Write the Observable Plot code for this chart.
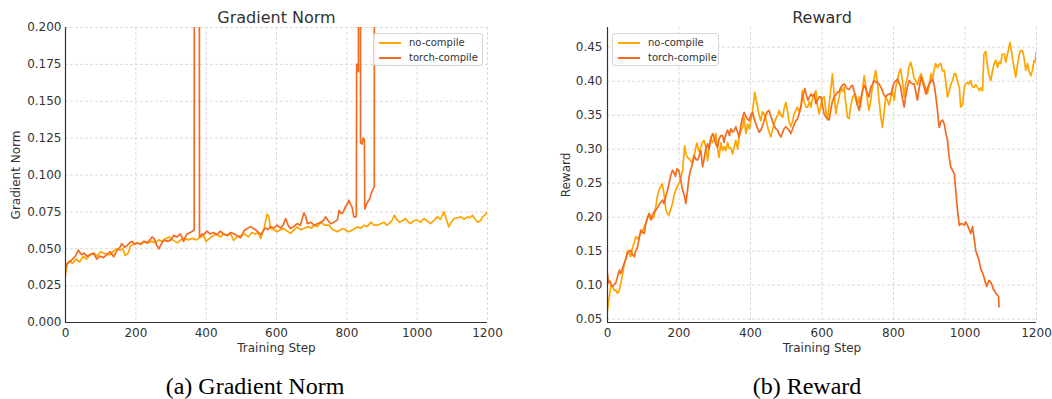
<!DOCTYPE html>
<html>
<head>
<meta charset="utf-8">
<script src="https://cdn.jsdelivr.net/npm/d3@7"></script>
<script src="https://cdn.jsdelivr.net/npm/@observablehq/plot@0.6"></script>
<style>
  html, body { margin: 0; padding: 0; background: #fff; }
  #root { position: relative; width: 1052px; height: 399px; overflow: hidden; font-family: "DejaVu Sans", sans-serif; }
  .chart { position: absolute; top: 0; }
  .legend { position: absolute; box-sizing: border-box; height: 33px; border: 1px solid #d6d6d6; border-radius: 3px;
            background: rgba(255,255,255,0.85); font: 10px "DejaVu Sans", sans-serif; color: #333; padding: 1px 0 0 5px; }
  .legend .row { display: flex; align-items: center; height: 15px; }
  .legend .sw { width: 22px; height: 2px; margin-right: 8px; }
  .caption { position: absolute; top: 374px; font: 24px "Liberation Serif", "Times New Roman", serif; color: #000; white-space: nowrap; transform: translateX(-50%); line-height: 1; }
</style>
</head>
<body>
<div id="root"></div>
<script>
// ---------- data ----------
const seriesNames = ["no-compile", "torch-compile"];
const seriesColors = ["#FFA500", "#F36B21"];
const xTicks = [0, 200, 400, 600, 800, 1000, 1200];
const gradTicks = [0, 0.025, 0.05, 0.075, 0.1, 0.125, 0.15, 0.175, 0.2];
const rewardTicks = [0.05, 0.1, 0.15, 0.2, 0.25, 0.3, 0.35, 0.4, 0.45];
const titles = ["Gradient Norm", "Reward"];
const captions = ["(a) Gradient Norm", "(b) Reward"];

// Gradient norm, no-compile: [step, value]
const gradNoCompile = [[0,0.032],[5,0.040],[12,0.042],[20,0.040],[30,0.043],[40,0.041],[50,0.045],[60,0.043],[70,0.046],[80,0.047],[90,0.045],[100,0.048],[110,0.047],[120,0.046],[127,0.046],[135,0.048],[145,0.050],[155,0.049],[163,0.050],[170,0.0455],[178,0.047],[185,0.052],[195,0.053],[205,0.054],[215,0.053],[225,0.055],[235,0.054],[245,0.055],[255,0.054],[265,0.056],[275,0.055],[285,0.057],[295,0.058],[305,0.056],[318,0.054],[328,0.056],[338,0.057],[350,0.056],[360,0.057],[372,0.056],[384,0.058],[392,0.059],[400,0.055],[410,0.057],[420,0.059],[430,0.060],[440,0.058],[450,0.060],[460,0.059],[470,0.060],[478,0.0557],[488,0.058],[500,0.059],[510,0.060],[520,0.058],[530,0.061],[540,0.060],[548,0.061],[555,0.057],[565,0.064],[573,0.0735],[578,0.072],[583,0.0637],[592,0.063],[602,0.0615],[612,0.063],[621,0.0637],[630,0.062],[640,0.0604],[650,0.063],[659,0.0648],[668,0.063],[678,0.0637],[690,0.065],[700,0.064],[707,0.066],[716,0.065],[726,0.068],[737,0.066],[749,0.066],[760,0.063],[773,0.0615],[782,0.063],[792,0.0637],[800,0.062],[806,0.0615],[818,0.063],[830,0.0648],[840,0.064],[849,0.066],[858,0.065],[868,0.068],[877,0.066],[887,0.066],[896,0.067],[906,0.068],[913,0.066],[920,0.067],[928,0.069],[935,0.0727],[942,0.070],[949,0.068],[958,0.069],[967,0.0705],[975,0.068],[981,0.067],[990,0.069],[1000,0.0694],[1010,0.068],[1019,0.0705],[1028,0.069],[1038,0.067],[1047,0.069],[1057,0.0716],[1066,0.070],[1076,0.075],[1083,0.070],[1090,0.0648],[1097,0.068],[1105,0.0705],[1114,0.071],[1124,0.0716],[1133,0.070],[1143,0.0716],[1150,0.071],[1157,0.0727],[1165,0.070],[1172,0.068],[1180,0.069],[1186,0.0716],[1193,0.073],[1200,0.075]];

// Gradient norm, torch-compile (spikes run far off the top of the axis)
const gradTorchCompile = [[0,0.038],[5,0.040],[12,0.041],[20,0.043],[28,0.045],[37,0.049],[45,0.046],[53,0.047],[61,0.045],[70,0.046],[80,0.047],[89,0.043],[98,0.045],[108,0.044],[117,0.046],[127,0.048],[137,0.0445],[147,0.049],[155,0.051],[160,0.0535],[168,0.051],[175,0.052],[182,0.054],[190,0.055],[197,0.053],[203,0.054],[212,0.053],[222,0.055],[232,0.054],[240,0.056],[246,0.058],[252,0.057],[260,0.052],[266,0.050],[272,0.053],[280,0.056],[290,0.055],[300,0.056],[308,0.059],[317,0.058],[327,0.060],[336,0.055],[345,0.060],[355,0.061],[362,0.062],[366,0.063],[367,0.6],[380,0.6],[381,0.058],[388,0.060],[393,0.0595],[402,0.062],[412,0.060],[421,0.061],[431,0.0595],[440,0.062],[450,0.060],[460,0.059],[470,0.061],[480,0.060],[488,0.059],[498,0.0575],[507,0.062],[517,0.0637],[526,0.065],[535,0.0637],[545,0.062],[555,0.0595],[562,0.062],[568,0.064],[575,0.063],[583,0.065],[592,0.064],[602,0.066],[612,0.064],[619,0.066],[626,0.0705],[633,0.066],[640,0.0637],[649,0.065],[659,0.067],[668,0.066],[678,0.0743],[683,0.072],[688,0.067],[697,0.068],[707,0.066],[716,0.067],[726,0.068],[733,0.069],[740,0.0716],[747,0.069],[754,0.067],[763,0.068],[773,0.0694],[778,0.076],[783,0.074],[787,0.074],[792,0.076],[796,0.0784],[801,0.080],[806,0.0829],[811,0.080],[815,0.078],[820,0.0716],[825,0.0716],[827,0.072],[828,0.175],[831,0.175],[833,0.170],[834,0.6],[838,0.6],[839,0.122],[843,0.121],[846,0.125],[850,0.124],[851,0.077],[856,0.080],[860,0.082],[865,0.084],[870,0.088],[874,0.090],[878,0.092],[879,0.6]];

// Reward, no-compile
const rewardNoCompile = [[0,0.063],[5,0.083],[10,0.100],[14,0.098],[19,0.092],[23,0.093],[28,0.088],[33,0.092],[37,0.102],[42,0.115],[47,0.132],[52,0.140],[56,0.151],[61,0.146],[65,0.142],[70,0.155],[75,0.163],[79,0.171],[84,0.168],[89,0.172],[93,0.176],[98,0.180],[103,0.186],[107,0.190],[112,0.198],[116,0.205],[121,0.201],[126,0.198],[130,0.200],[135,0.215],[140,0.232],[144,0.240],[149,0.245],[153,0.249],[158,0.235],[163,0.212],[168,0.205],[172,0.203],[177,0.212],[182,0.220],[186,0.232],[191,0.240],[196,0.246],[200,0.249],[205,0.258],[210,0.269],[214,0.293],[216,0.305],[220,0.292],[224,0.288],[230,0.285],[236,0.280],[242,0.290],[250,0.309],[256,0.296],[261,0.303],[266,0.310],[270,0.313],[276,0.300],[280,0.283],[285,0.305],[289,0.318],[294,0.310],[298,0.313],[303,0.323],[308,0.300],[312,0.288],[317,0.309],[322,0.298],[326,0.304],[331,0.298],[336,0.310],[340,0.302],[345,0.302],[350,0.293],[355,0.305],[359,0.313],[364,0.300],[368,0.318],[373,0.327],[378,0.332],[382,0.347],[387,0.323],[392,0.337],[397,0.330],[402,0.345],[406,0.357],[409,0.370],[412,0.384],[416,0.372],[420,0.362],[424,0.350],[429,0.342],[433,0.355],[438,0.352],[443,0.345],[448,0.333],[452,0.325],[457,0.318],[461,0.328],[466,0.337],[471,0.345],[476,0.350],[480,0.357],[485,0.350],[490,0.347],[494,0.360],[499,0.369],[504,0.355],[508,0.340],[513,0.333],[518,0.342],[522,0.352],[527,0.357],[531,0.362],[536,0.355],[541,0.362],[545,0.386],[550,0.370],[555,0.362],[560,0.362],[565,0.370],[569,0.362],[574,0.375],[578,0.380],[583,0.386],[587,0.365],[592,0.352],[597,0.365],[601,0.375],[606,0.377],[611,0.355],[615,0.343],[620,0.365],[625,0.390],[629,0.411],[634,0.380],[639,0.352],[643,0.365],[648,0.377],[652,0.391],[657,0.385],[662,0.391],[666,0.370],[671,0.347],[676,0.345],[680,0.362],[685,0.375],[690,0.381],[695,0.372],[699,0.365],[704,0.377],[708,0.362],[713,0.385],[718,0.408],[722,0.395],[727,0.372],[731,0.357],[736,0.370],[741,0.392],[746,0.405],[750,0.416],[755,0.398],[760,0.370],[764,0.350],[769,0.332],[773,0.350],[778,0.377],[783,0.372],[788,0.365],[793,0.378],[797,0.385],[802,0.372],[806,0.391],[811,0.400],[815,0.412],[820,0.418],[825,0.400],[830,0.377],[834,0.396],[839,0.405],[843,0.420],[848,0.428],[853,0.418],[857,0.405],[862,0.401],[867,0.395],[872,0.405],[877,0.411],[882,0.402],[886,0.395],[891,0.389],[895,0.382],[900,0.395],[905,0.411],[909,0.401],[913,0.415],[918,0.426],[923,0.420],[928,0.425],[932,0.426],[937,0.415],[942,0.416],[946,0.400],[951,0.377],[956,0.385],[960,0.395],[965,0.401],[970,0.411],[974,0.411],[979,0.400],[984,0.391],[988,0.362],[993,0.365],[998,0.391],[1002,0.396],[1007,0.398],[1011,0.396],[1016,0.401],[1020,0.392],[1025,0.391],[1030,0.395],[1035,0.391],[1040,0.386],[1044,0.390],[1049,0.386],[1053,0.440],[1058,0.444],[1062,0.425],[1067,0.410],[1072,0.401],[1077,0.415],[1081,0.425],[1086,0.431],[1091,0.420],[1095,0.428],[1100,0.426],[1104,0.440],[1110,0.440],[1114,0.428],[1119,0.440],[1123,0.450],[1126,0.457],[1130,0.445],[1134,0.430],[1137,0.421],[1142,0.406],[1147,0.425],[1152,0.440],[1156,0.445],[1161,0.445],[1165,0.435],[1170,0.416],[1175,0.426],[1179,0.415],[1184,0.408],[1188,0.415],[1193,0.430],[1196,0.428],[1200,0.445]];

// Reward, torch-compile (collapses after ~920)
const rewardTorchCompile = [[0,0.117],[3,0.103],[7,0.106],[11,0.100],[14,0.098],[19,0.101],[23,0.103],[28,0.112],[33,0.122],[37,0.117],[42,0.125],[47,0.132],[52,0.140],[56,0.146],[61,0.150],[65,0.151],[70,0.145],[75,0.142],[79,0.150],[84,0.156],[89,0.170],[93,0.181],[98,0.178],[103,0.176],[107,0.190],[112,0.200],[117,0.205],[121,0.196],[126,0.203],[130,0.207],[135,0.210],[140,0.214],[144,0.218],[149,0.222],[154,0.225],[158,0.220],[163,0.230],[168,0.240],[172,0.249],[177,0.262],[182,0.269],[186,0.265],[190,0.260],[194,0.271],[200,0.268],[205,0.254],[210,0.240],[215,0.232],[219,0.220],[224,0.240],[228,0.259],[233,0.270],[238,0.279],[242,0.291],[247,0.285],[252,0.284],[256,0.290],[261,0.298],[266,0.274],[270,0.285],[275,0.300],[280,0.308],[284,0.300],[289,0.315],[294,0.323],[298,0.318],[303,0.308],[308,0.303],[312,0.315],[317,0.320],[322,0.320],[326,0.310],[331,0.322],[336,0.328],[341,0.320],[345,0.330],[350,0.325],[355,0.328],[359,0.333],[364,0.325],[368,0.318],[373,0.335],[378,0.347],[382,0.354],[387,0.348],[391,0.345],[396,0.342],[401,0.350],[406,0.354],[410,0.345],[415,0.337],[420,0.330],[424,0.325],[429,0.328],[434,0.335],[438,0.342],[443,0.350],[447,0.355],[452,0.357],[456,0.350],[461,0.342],[466,0.335],[471,0.330],[476,0.328],[480,0.322],[485,0.318],[490,0.325],[494,0.330],[499,0.333],[504,0.330],[508,0.328],[513,0.323],[518,0.330],[522,0.336],[527,0.342],[532,0.345],[536,0.352],[541,0.362],[546,0.378],[550,0.385],[552,0.389],[557,0.378],[561,0.372],[564,0.376],[569,0.381],[573,0.378],[578,0.381],[583,0.367],[587,0.372],[592,0.377],[597,0.377],[602,0.362],[606,0.352],[611,0.347],[616,0.345],[620,0.343],[625,0.360],[629,0.370],[634,0.377],[639,0.380],[643,0.384],[648,0.384],[652,0.390],[657,0.394],[662,0.396],[667,0.392],[671,0.389],[676,0.388],[681,0.392],[685,0.394],[690,0.385],[695,0.377],[699,0.365],[704,0.357],[708,0.372],[713,0.385],[718,0.394],[722,0.390],[727,0.382],[731,0.377],[736,0.390],[741,0.395],[746,0.401],[750,0.399],[755,0.398],[760,0.396],[764,0.392],[769,0.386],[773,0.380],[778,0.377],[783,0.380],[788,0.381],[793,0.381],[797,0.390],[802,0.398],[806,0.400],[811,0.403],[815,0.398],[820,0.391],[825,0.375],[830,0.362],[834,0.378],[839,0.392],[844,0.401],[848,0.398],[853,0.396],[858,0.396],[862,0.385],[867,0.372],[872,0.390],[877,0.406],[882,0.398],[886,0.390],[891,0.381],[895,0.390],[900,0.396],[905,0.400],[909,0.403],[912,0.398],[915,0.391],[919,0.375],[923,0.357],[926,0.340],[928,0.332],[932,0.340],[937,0.343],[942,0.337],[946,0.325],[951,0.313],[955,0.291],[960,0.274],[965,0.269],[970,0.264],[974,0.240],[979,0.210],[984,0.188],[988,0.190],[993,0.190],[998,0.188],[1002,0.193],[1007,0.188],[1012,0.182],[1016,0.176],[1021,0.186],[1025,0.171],[1030,0.151],[1035,0.143],[1039,0.137],[1044,0.124],[1049,0.118],[1053,0.112],[1057,0.104],[1061,0.098],[1064,0.103],[1067,0.107],[1071,0.105],[1074,0.102],[1077,0.098],[1080,0.093],[1083,0.092],[1086,0.088],[1090,0.086],[1094,0.083],[1095,0.068]];

// ---------- drawing ----------
const root = document.getElementById("root");
const gridStyle = {stroke: "#d2d2d2", strokeWidth: 0.8, strokeDasharray: "3,2", strokeOpacity: 1};

function makeChart({title, series, yDomain, yTicks, yFormat, yLabel, width, marginLeft, marginRight, yLabelOffset, yTickPadding}) {
  const rows = [];
  series.forEach((s, i) => s.forEach(([step, v]) => rows.push({step, v, name: seriesNames[i]})));
  return Plot.plot({
    width, height: 360,
    marginLeft, marginRight, marginTop: 27, marginBottom: 38,
    style: {fontFamily: "DejaVu Sans", fontSize: "12px", color: "#333", background: "transparent", overflow: "visible"},
    x: {domain: [0, 1200]},
    y: {domain: yDomain},
    color: {domain: seriesNames, range: seriesColors},
    marks: [
      Plot.gridX(xTicks, gridStyle),
      Plot.gridY(yTicks, gridStyle),
      Plot.axisX(xTicks, {tickSize: 0, tickPadding: 6, tickFormat: d3.format("d"), label: "Training Step", labelAnchor: "center", labelArrow: "none", labelOffset: 29, fontSize: 12, fill: "#333"}),
      Plot.axisY(yTicks, {tickSize: 0, tickPadding: yTickPadding, tickFormat: yFormat, label: yLabel, labelAnchor: "center", labelArrow: "none", labelOffset: yLabelOffset, fontSize: 12, fill: "#333"}),
      Plot.line(rows, {x: "step", y: "v", z: "name", stroke: "name", strokeWidth: 1.7, strokeLinejoin: "round", clip: true}),
      Plot.ruleX([0], {stroke: "#333", strokeWidth: 1.2}),
      Plot.ruleY([yDomain[0]], {stroke: "#333", strokeWidth: 1.2}),
      Plot.text([title], {frameAnchor: "top", dy: -16, fontSize: 16, fill: "#333", text: d => d})
    ]
  });
}

const left = makeChart({
  title: titles[0], series: [gradNoCompile, gradTorchCompile],
  yDomain: [0, 0.2], yTicks: gradTicks, yFormat: d3.format(".3f"), yLabel: "Gradient Norm",
  width: 520, marginLeft: 65, marginRight: 33, yLabelOffset: 54, yTickPadding: 4
});
left.classList.add("chart"); left.style.left = "0px";
root.appendChild(left);

const right = makeChart({
  title: titles[1], series: [rewardNoCompile, rewardTorchCompile],
  yDomain: [0.045, 0.479], yTicks: rewardTicks, yFormat: d3.format(".2f"), yLabel: "Reward",
  width: 522, marginLeft: 77, marginRight: 16, yLabelOffset: 46, yTickPadding: 5
});
right.classList.add("chart"); right.style.left = "530px";
root.appendChild(right);

function legend(x, y, w) {
  const div = document.createElement("div");
  div.className = "legend";
  div.style.left = x + "px"; div.style.top = y + "px"; div.style.width = w + "px";
  seriesNames.forEach((n, i) => {
    const row = document.createElement("div"); row.className = "row";
    const sw = document.createElement("div"); sw.className = "sw"; sw.style.background = seriesColors[i];
    const t = document.createElement("span"); t.textContent = n;
    row.appendChild(sw); row.appendChild(t); div.appendChild(row);
  });
  root.appendChild(div);
}
legend(373, 33, 110);
legend(612, 33, 107);

[[captions[0], 255], [captions[1], 807]].forEach(([t, cx]) => {
  const c = document.createElement("div");
  c.className = "caption"; c.textContent = t; c.style.left = cx + "px";
  root.appendChild(c);
});
</script>
</body>
</html>
